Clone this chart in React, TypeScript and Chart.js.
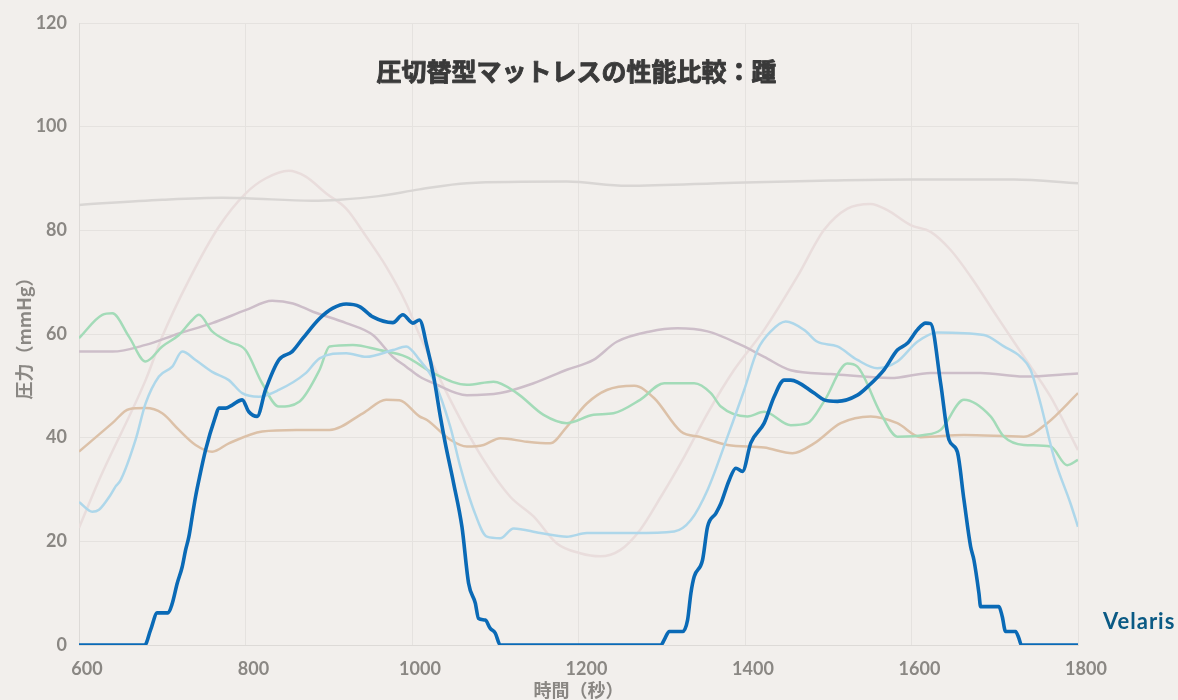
import React, { useEffect, useRef } from "react";
import { Chart, registerables } from "chart.js";

Chart.register(...registerables);

const chartTitle = "圧切替型マットレスの性能比較：踵";
const xAxisTitle = "時間（秒）";
const yAxisTitle = "圧力（mmHg）";
const highlightName = "Velaris";

const xTicks = [600, 800, 1000, 1200, 1400, 1600, 1800];
const yTicks = [0, 20, 40, 60, 80, 100, 120];

// Velaris (highlighted)
const velarisT = [600,679,686,694,707,712,718,724,728,732,736,740,744,752,764,768,776,784,796,804,814,824,840,856,869,889,905,921,937,953,977,989,1001,1009,1018,1026,1034,1040,1050,1060,1068,1076,1080,1088,1094,1100,1106,1299,1303,1309,1325,1331,1335,1339,1349,1355,1365,1371,1381,1389,1397,1407,1423,1435,1447,1455,1483,1495,1511,1535,1547,1567,1583,1595,1607,1617,1623,1635,1645,1655,1663,1671,1675,1681,1683,1705,1709,1713,1725,1729,1732,1800];
const velarisV = [0,0,2.9,6.2,6.2,8.0,11.9,15.1,18.3,20.9,24.8,28.6,31.8,37.6,44.1,45.7,45.7,46.3,47.3,45.0,44.1,49.2,55.0,56.6,59.2,63.0,65.0,65.8,65.3,63.3,62.2,63.7,62.1,62.7,57.6,51.8,44.1,38.9,31.2,22.8,11.9,8.1,5.1,4.8,3.2,2.3,0,0,1.0,2.6,2.6,4.8,10.0,13.2,16.4,22.8,25.4,27.3,31.8,34.1,33.5,39.0,42.8,47.9,51.1,51.1,48.6,47.3,47.0,48.2,49.8,53.1,56.9,58.2,60.8,62.1,62.0,50.5,39.6,37.3,28.0,19.0,16.4,10.0,7.4,7.4,5.5,2.6,2.6,1.3,0,0];

// Comparison mattresses
const lightBlueT = [600,616,624,638,644,650,668,680,696,712,724,740,760,780,796,816,840,872,889,921,945,977,993,1009,1026,1046,1058,1074,1090,1106,1122,1154,1186,1210,1266,1315,1335,1355,1379,1399,1415,1431,1449,1471,1487,1511,1535,1559,1583,1607,1631,1687,1711,1731,1743,1755,1771,1791,1800];
const lightBlueV = [27.6,25.7,26.1,29.0,30.6,31.8,39.6,46.6,51.8,53.7,56.6,55.0,52.7,51.1,48.6,47.9,49.2,52.4,55.3,56.3,55.6,56.9,57.6,55.0,51.1,42.1,34.4,26.1,20.9,20.6,22.5,21.6,20.9,21.6,21.6,21.9,24.1,29.9,40.2,49.2,56.9,60.5,62.4,60.8,58.5,57.6,55.0,53.4,54.7,58.5,60.3,59.8,57.6,55.6,53.1,46.6,36.3,27.3,22.8];

const greenT = [600,628,640,660,680,700,720,736,744,760,780,800,820,840,865,889,901,929,961,993,1026,1066,1098,1126,1158,1186,1218,1242,1274,1303,1339,1359,1371,1403,1423,1455,1475,1495,1523,1535,1563,1583,1615,1635,1663,1695,1711,1735,1767,1787,1800];
const greenV = [59.2,63.7,64.0,59.5,54.7,57.6,59.8,62.7,63.7,60.5,58.5,56.9,50.5,46.0,47.0,53.1,57.6,57.9,56.9,55.6,52.4,50.2,50.8,48.6,44.4,42.8,44.4,44.7,47.3,50.5,50.5,48.6,46.0,44.1,45.0,42.4,42.8,47.0,54.3,53.7,44.7,40.2,40.5,41.5,47.3,44.1,40.2,38.6,38.3,34.7,35.7];

const tanT = [600,640,660,680,700,720,740,760,780,820,861,901,941,969,985,1009,1018,1046,1066,1086,1106,1138,1166,1186,1210,1234,1267,1291,1323,1347,1379,1423,1457,1483,1515,1551,1583,1611,1663,1735,1763,1800];
const tanV = [37.3,42.8,45.5,45.7,44.7,41.5,38.6,37.3,38.9,41.2,41.5,41.5,44.7,47.3,47.2,44.1,43.4,39.6,38.3,38.6,39.9,39.2,38.9,42.1,46.6,49.2,50.0,47.6,41.2,40.1,38.6,38.1,37.0,38.9,42.8,44.1,42.8,40.1,40.5,40.2,42.8,48.6];

const mauveT = [600,640,680,720,760,800,832,857,881,921,953,977,993,1009,1026,1066,1106,1146,1186,1218,1246,1286,1319,1355,1395,1423,1455,1503,1575,1623,1683,1735,1800];
const mauveV = [56.6,56.6,57.9,60.1,62.1,64.6,66.4,65.9,64.3,62.1,59.8,55.6,53.7,51.8,50.5,48.2,48.6,50.5,53.1,55.0,58.5,60.5,61.1,60.5,57.9,55.6,53.0,52.3,51.5,52.5,52.5,51.8,52.4];

const grayT = [600,700,772,800,880,913,960,1009,1066,1186,1258,1387,1503,1599,1723,1800];
const grayV = [84.9,85.9,86.3,86.2,85.7,85.9,86.6,87.9,89.1,89.4,88.6,89.2,89.6,89.8,89.8,89.1];

const pinkT = [600,624,680,700,732,768,800,824,852,872,897,921,945,969,993,1009,1046,1086,1118,1146,1174,1202,1226,1250,1274,1299,1327,1355,1387,1423,1463,1495,1523,1551,1571,1599,1623,1647,1671,1703,1735,1767,1800];
const pinkV = [22.6,31.8,51.1,59.5,70.4,80.7,87.1,90.0,91.5,90.4,87.1,84.2,78.8,73.0,65.9,59.8,47.3,35.7,28.6,24.8,19.6,17.7,17.1,18.3,22.2,28.6,36.3,44.7,53.1,60.8,71.1,80.1,84.2,85.1,83.9,81.0,79.7,76.2,71.1,63.3,55.6,47.9,37.6];

const BG = "#f2efec";
const TICK_COLOR = "#8a8783";

function pts(t: number[], v: number[]) {
  return t.map((x, i) => ({ x, y: v[i] }));
}

const overlayPlugin = {
  id: "overlayText",
  beforeDraw(chart: any) {
    const { ctx, width, height } = chart;
    ctx.save();
    ctx.fillStyle = BG;
    ctx.fillRect(0, 0, width, height);
    ctx.restore();
  },
  afterDraw(chart: any) {
    const { ctx, chartArea, scales } = chart;
    ctx.save();
    ctx.fillStyle = "#3a3a3a";
    ctx.strokeStyle = "#3a3a3a";
    ctx.lineWidth = 0.9;
    ctx.lineJoin = "round";
    ctx.font = "bold 25px 'Noto Sans CJK JP'";
    ctx.textAlign = "center";
    ctx.textBaseline = "middle";
    const tx = (chartArea.left + chartArea.right) / 2 - 2;
    const ty = chartArea.top + 48;
    ctx.fillText(chartTitle, tx, ty);
    ctx.strokeText(chartTitle, tx, ty);

    const lastV = velarisV[velarisV.length - 1];
    const y = scales.y.getPixelForValue(lastV) - 23;
    ctx.fillStyle = "#0b5a84";
    ctx.font = "bold 22px Lato";
    try {
      (ctx as any).letterSpacing = "1px";
    } catch (e) {}
    ctx.textAlign = "left";
    ctx.fillText(highlightName, chartArea.right + 25, y);
    ctx.restore();
  },
};

export default function App() {
  const ref = useRef<HTMLCanvasElement | null>(null);

  useEffect(() => {
    document.body.style.margin = "0";
    document.body.style.background = BG;
    const thin = 2.5;
    const mk = (label: string, t: number[], v: number[], color: string, w: number) => ({
      label,
      data: pts(t, v),
      borderColor: color,
      backgroundColor: color,
      borderWidth: w,
      pointRadius: 0,
      fill: false,
      cubicInterpolationMode: "monotone" as const,
    });
    const chart = new Chart(ref.current as HTMLCanvasElement, {
      type: "line",
      data: {
        datasets: [
          mk(highlightName, velarisT, velarisV, "#0a6ab6", 3.6),
          mk("B", lightBlueT, lightBlueV, "#aed7ea", thin),
          mk("C", greenT, greenV, "#a3dbb8", thin),
          mk("D", tanT, tanV, "#dcc1a8", thin),
          mk("E", mauveT, mauveV, "#cdbec9", thin),
          mk("F", grayT, grayV, "#d9d6d4", thin),
          mk("G", pinkT, pinkV, "#e9dddc", thin),
        ],
      },
      options: {
        animation: false,
        responsive: true,
        maintainAspectRatio: false,
        layout: { padding: { top: 23, right: 100, left: 0, bottom: 0 } },
        plugins: {
          legend: { display: false },
          tooltip: { enabled: false },
          title: { display: false },
        },
        scales: {
          x: {
            type: "linear",
            min: 600,
            max: 1800,
            afterBuildTicks: (s: any) => {
              s.ticks = xTicks.map((value) => ({ value }));
            },
            afterFit: (s: any) => {
              s.height = 55;
            },
            ticks: {
              color: TICK_COLOR,
              font: { family: "Lato", size: 18, weight: "bold" },
              padding: 13,
              labelOffset: 8,
              maxRotation: 0,
              callback: (v: any) => String(v),
            },
            grid: { color: "#e5e2df", lineWidth: 1, drawTicks: false },
            border: { color: "#dddad7", width: 1 },
            title: {
              display: true,
              text: xAxisTitle,
              color: TICK_COLOR,
              font: { family: "'Noto Sans CJK JP'", size: 18, weight: "bold", lineHeight: 1.05 },
              padding: { top: 0, bottom: 0 },
            },
          },
          y: {
            min: 0,
            max: 120,
            afterBuildTicks: (s: any) => {
              s.ticks = yTicks.map((value) => ({ value }));
            },
            afterFit: (s: any) => {
              s.width = 79;
            },
            ticks: {
              color: TICK_COLOR,
              font: { family: "Lato", size: 18, weight: "bold" },
              padding: 12,
              callback: (v: any) => String(v),
            },
            grid: { color: "#e5e2df", lineWidth: 1, drawTicks: false },
            border: { color: "#dddad7", width: 1 },
            title: {
              display: true,
              text: yAxisTitle,
              color: TICK_COLOR,
              font: { family: "'Noto Sans CJK JP'", size: 18, weight: "bold", lineHeight: 1.05 },
              padding: { top: 15, bottom: 0 },
            },
          },
        },
      },
      plugins: [overlayPlugin],
    });
    return () => chart.destroy();
  }, []);

  return (
    <div style={{ position: "fixed", left: 0, top: 0, width: 1178, height: 700, background: BG }}>
      <canvas ref={ref} />
    </div>
  );
}
